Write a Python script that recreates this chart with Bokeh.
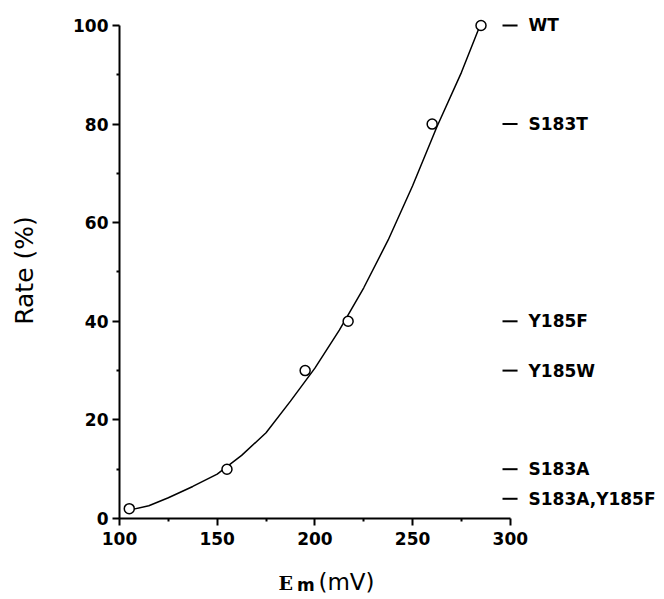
import math
from bokeh.plotting import figure
from bokeh.models import FixedTicker, Range1d, Label, ColumnDataSource
from bokeh.core.properties import value
from bokeh.embed import file_html
from bokeh.resources import INLINE

# Measured points
em_mv = [105, 155, 195, 217, 260, 285]
rate_pct = [2, 10, 30, 40, 80, 100]

# Fitted curve
curve_x = [105, 115, 125, 137.5, 150, 162.5, 175, 187.5, 200, 212.5, 225, 237.5, 250, 262.5, 275, 285]
curve_y = [1.7, 2.6, 4.2, 6.5, 9.0, 12.8, 17.4, 23.8, 30.5, 38.2, 46.8, 56.5, 67.5, 79.5, 90.5, 100.5]

# Mutant labels on the right
mutants = ["WT", "S183T", "Y185F", "Y185W", "S183A", "S183A,Y185F"]
mutant_rate = [100, 80, 40, 30, 10, 4]

x_ticks = [100, 150, 200, 250, 300]
x_minor = [125, 175, 225, 275]
y_ticks = [0, 20, 40, 60, 80, 100]
y_minor = [10, 30, 50, 70, 90]

p = figure(width=664, height=599, output_backend="svg", toolbar_location=None,
           x_range=Range1d(39.1, 378.9), y_range=Range1d(-16.43, 105.07),
           min_border=0, min_border_left=0, min_border_right=0,
           min_border_top=0, min_border_bottom=0)
p.outline_line_color = None
p.grid.visible = False
p.background_fill_color = "white"

p.xaxis[0].fixed_location = 0
p.yaxis[0].fixed_location = 100

for ax, ticks, minor, bounds in [(p.xaxis[0], x_ticks, x_minor, (100, 300)),
                                 (p.yaxis[0], y_ticks, y_minor, (0, 100))]:
    ax.ticker = FixedTicker(ticks=ticks, minor_ticks=minor)
    ax.bounds = bounds
    ax.axis_line_width = 2
    ax.axis_line_color = "black"
    ax.major_tick_line_width = 2
    ax.major_tick_out = 7
    ax.major_tick_in = 0
    ax.minor_tick_line_width = 2
    ax.minor_tick_out = 3
    ax.minor_tick_in = 0
    ax.major_label_text_font = "DejaVu Sans"
    ax.major_label_text_font_style = "bold"
    ax.major_label_text_font_size = "17px"
    ax.major_label_text_color = "black"

p.yaxis[0].major_label_standoff = 4
p.xaxis[0].major_label_standoff = 7

p.line(curve_x, curve_y, line_color="black", line_width=1.5)
p.scatter(em_mv, rate_pct, marker="circle", size=10, fill_color="white",
          line_color="black", line_width=1.5)

src = ColumnDataSource(dict(x0=[296] * len(mutants), x1=[303.7] * len(mutants),
                            xt=[309.3] * len(mutants), y=mutant_rate, t=mutants))
p.segment(x0="x0", y0="y", x1="x1", y1="y", source=src, line_color="black", line_width=2)
p.text(x="xt", y="y", text="t", source=src, text_font=value("DejaVu Sans"),
       text_font_style="bold", text_font_size="17px", text_baseline="middle",
       text_align="left", text_color="black")

p.add_layout(Label(x=51.4, y=50.3, text="Rate (%)", angle=math.pi / 2,
                   text_font="DejaVu Sans", text_font_size="25px",
                   text_align="center", text_baseline="middle", text_color="black"))
p.add_layout(Label(x=181.4, y=-15.3, text="E", text_font="DejaVu Serif",
                   text_font_style="bold", text_font_size="19px",
                   text_align="left", text_baseline="bottom", text_color="black"))
p.add_layout(Label(x=190.8, y=-15.6, text="m", text_font="DejaVu Sans",
                   text_font_style="bold", text_font_size="17px",
                   text_align="left", text_baseline="bottom", text_color="black"))
p.add_layout(Label(x=201.8, y=-15.6, text="(mV)", text_font="DejaVu Sans",
                   text_font_size="23px",
                   text_align="left", text_baseline="bottom", text_color="black"))

open("out.html", "w").write(file_html(p, INLINE))
